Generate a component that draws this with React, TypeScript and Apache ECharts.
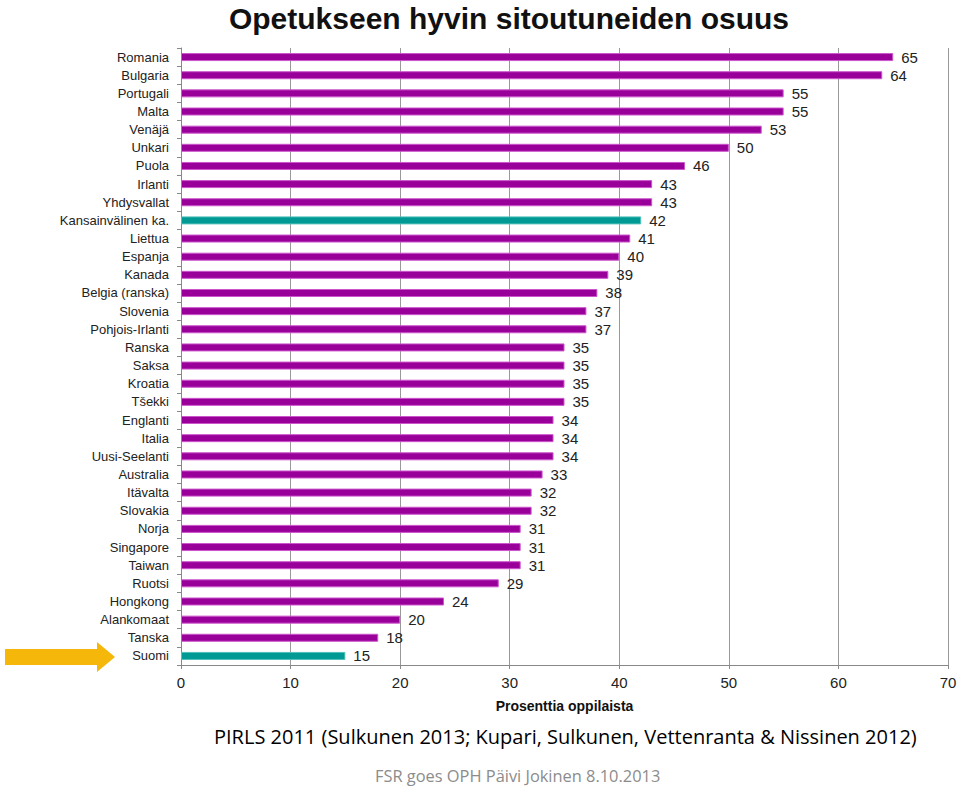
import React, { useEffect, useRef } from "react";
import * as echarts from "echarts";

const categories = [
  "Romania", "Bulgaria", "Portugali", "Malta", "Venäjä", "Unkari", "Puola", "Irlanti",
  "Yhdysvallat", "Kansainvälinen ka.", "Liettua", "Espanja", "Kanada", "Belgia (ranska)",
  "Slovenia", "Pohjois-Irlanti", "Ranska", "Saksa", "Kroatia", "Tšekki", "Englanti",
  "Italia", "Uusi-Seelanti", "Australia", "Itävalta", "Slovakia", "Norja", "Singapore",
  "Taiwan", "Ruotsi", "Hongkong", "Alankomaat", "Tanska", "Suomi",
];
const values = [
  65, 64, 55, 55, 53, 50, 46, 43, 43, 42, 41, 40, 39, 38, 37, 37, 35, 35, 35, 35, 34,
  34, 34, 33, 32, 32, 31, 31, 31, 29, 24, 20, 18, 15,
];
const highlighted = ["Kansainvälinen ka.", "Suomi"];

const titleText = "Opetukseen hyvin sitoutuneiden osuus";
const axisName = "Prosenttia oppilaista";
const caption = "PIRLS 2011 (Sulkunen 2013; Kupari, Sulkunen, Vettenranta & Nissinen 2012)";
const footer = "FSR goes OPH Päivi Jokinen 8.10.2013";

export default function App() {
  const ref = useRef<HTMLDivElement>(null);
  useEffect(() => {
    if (!ref.current) return;
    const chart = echarts.init(ref.current, undefined, { renderer: "svg" });
    const sans = "'Liberation Sans', Arial, sans-serif";
    chart.setOption({
      animation: false,
      backgroundColor: "#ffffff",
      title: {
        text: titleText,
        left: 504,
        textAlign: "center",
        top: -2,
        textStyle: { fontFamily: sans, fontWeight: "bold", fontSize: 30, color: "#111" },
      },
      grid: { left: 181, right: 12, top: 48, height: 617 },
      xAxis: {
        type: "value",
        min: 0,
        max: 70,
        interval: 10,
        name: axisName,
        nameLocation: "middle",
        nameGap: 34,
        nameTextStyle: { fontFamily: sans, fontWeight: "bold", fontSize: 14, color: "#111" },
        axisLine: { show: true, lineStyle: { color: "#888", width: 1 } },
        axisTick: { show: true, length: 4, lineStyle: { color: "#888" } },
        axisLabel: { fontFamily: sans, fontSize: 15, color: "#222", margin: 10 },
        splitLine: { show: true, lineStyle: { color: "#999", width: 1 } },
      },
      yAxis: {
        type: "category",
        data: categories,
        inverse: true,
        axisLine: { show: true, lineStyle: { color: "#888", width: 1 } },
        axisTick: { show: true, length: 4, lineStyle: { color: "#888" } },
        axisLabel: { fontFamily: sans, fontSize: 13, color: "#222", margin: 12 },
      },
      series: [
        {
          type: "bar",
          data: values.map((v, i) => {
            const hl = highlighted.includes(categories[i]);
            return {
              value: v,
              itemStyle: {
                color: hl ? "#009994" : "#990099",
                borderColor: hl ? "#4fbfbb" : "#cc55cc",
                borderWidth: 1,
              },
            };
          }),
          barWidth: 8,
          label: {
            show: true,
            position: "right",
            distance: 8,
            fontFamily: sans,
            fontSize: 15,
            color: "#222",
          },
        },
      ],
      graphic: [
        {
          type: "polygon",
          shape: {
            points: [
              [5, 649], [97, 649], [97, 642], [115, 657], [97, 672], [97, 665], [5, 665],
            ],
          },
          style: { fill: "#f5b70a" },
        },
        {
          type: "text",
          left: 214,
          top: 726,
          style: {
            text: caption,
            fontFamily: "'Open Sans', 'Noto Sans', sans-serif",
            fontSize: 20,
            fill: "#000",
          },
        },
        {
          type: "text",
          left: 375,
          top: 767,
          style: {
            text: footer,
            fontFamily: "'Open Sans', 'Noto Sans', sans-serif",
            fontSize: 16.4,
            fill: "#8c8c8c",
          },
        },
      ],
    });
    return () => chart.dispose();
  }, []);
  return (
    <div
      ref={ref}
      style={{ position: "absolute", left: 0, top: 0, width: 960, height: 790 }}
    />
  );
}
